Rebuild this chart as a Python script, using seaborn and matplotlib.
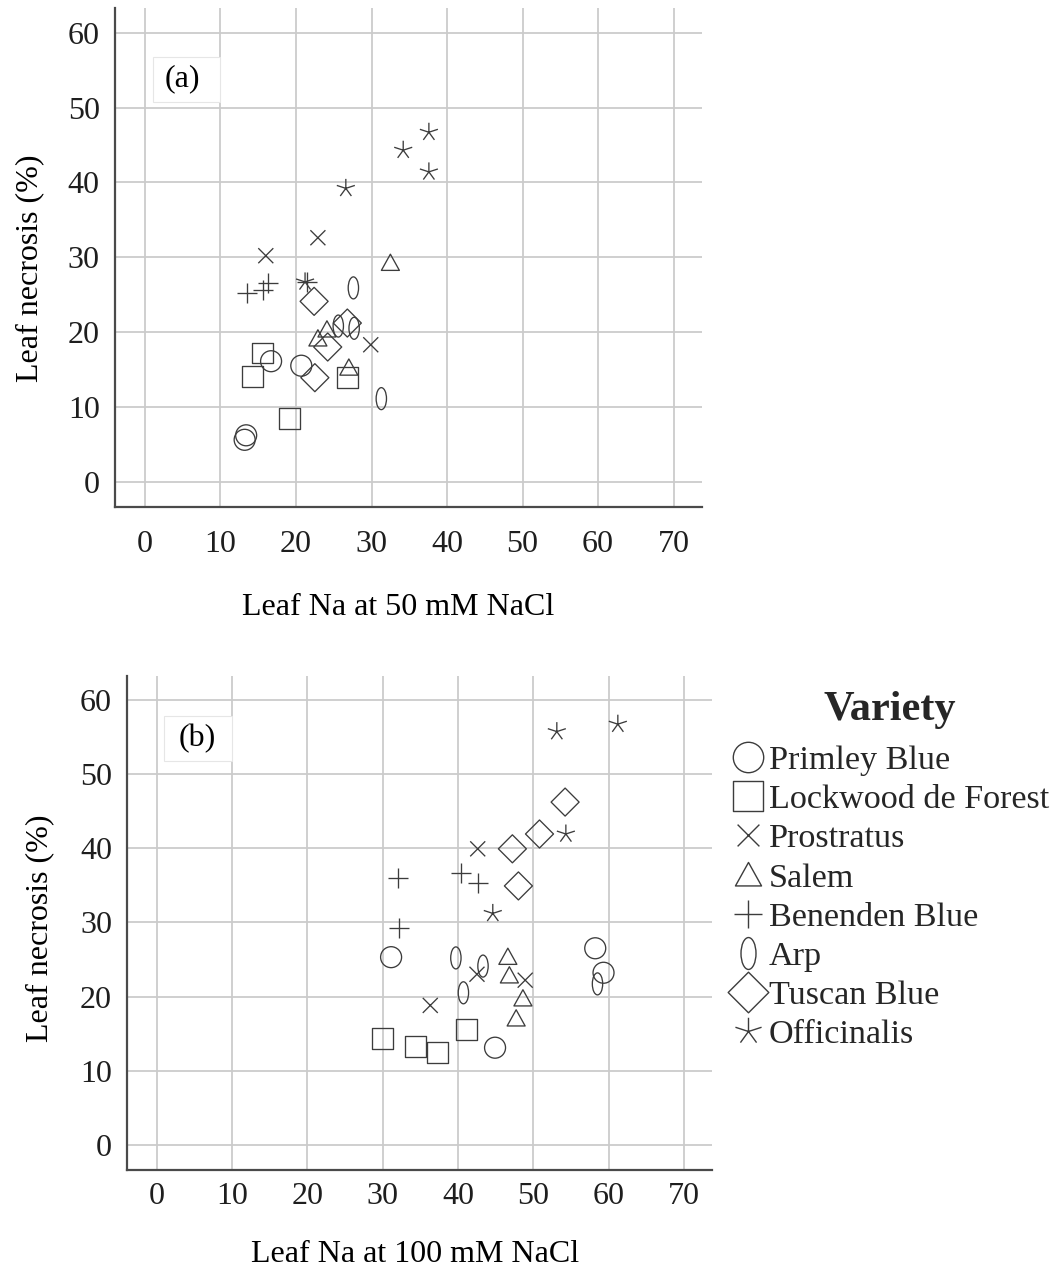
import numpy as np
import pandas as pd
import matplotlib
matplotlib.use("Agg")
import matplotlib.pyplot as plt
from matplotlib.path import Path
from matplotlib.transforms import Affine2D
from matplotlib.lines import Line2D
from matplotlib.patches import Rectangle
import seaborn as sns

# ---------------- data ----------------
varieties = ["Primley Blue", "Lockwood de Forest", "Prostratus", "Salem",
             "Benenden Blue", "Arp", "Tuscan Blue", "Officinalis"]

# panel (a): 50 mM NaCl
a_variety = ["Primley Blue", "Primley Blue", "Primley Blue", "Primley Blue",
             "Lockwood de Forest", "Lockwood de Forest", "Lockwood de Forest", "Lockwood de Forest",
             "Prostratus", "Prostratus", "Prostratus",
             "Salem", "Salem", "Salem", "Salem",
             "Benenden Blue", "Benenden Blue", "Benenden Blue", "Benenden Blue",
             "Arp", "Arp", "Arp", "Arp",
             "Tuscan Blue", "Tuscan Blue", "Tuscan Blue", "Tuscan Blue",
             "Officinalis", "Officinalis", "Officinalis", "Officinalis", "Officinalis"]
a_leaf_na = [16.7, 20.7, 13.4, 13.2,
             15.6, 14.2, 26.8, 19.1,
             16.0, 22.9, 29.9,
             32.5, 24.1, 22.9, 27.0,
             13.5, 15.6, 16.3, 21.5,
             27.6, 25.6, 27.7, 31.3,
             22.4, 26.8, 24.2, 22.5,
             37.6, 34.2, 37.6, 26.6, 21.2]
a_necrosis = [16.1, 15.5, 6.2, 5.6,
              17.2, 14.1, 13.9, 8.4,
              30.2, 32.6, 18.3,
              29.2, 20.3, 19.1, 15.2,
              25.2, 25.6, 26.5, 26.7,
              25.9, 20.8, 20.5, 11.1,
              24.1, 21.2, 18.0, 13.9,
              46.7, 44.3, 41.4, 39.2, 26.7]

# panel (b): 100 mM NaCl
b_variety = ["Primley Blue", "Primley Blue", "Primley Blue", "Primley Blue",
             "Lockwood de Forest", "Lockwood de Forest", "Lockwood de Forest", "Lockwood de Forest",
             "Prostratus", "Prostratus", "Prostratus", "Prostratus",
             "Salem", "Salem", "Salem", "Salem",
             "Benenden Blue", "Benenden Blue", "Benenden Blue", "Benenden Blue",
             "Arp", "Arp", "Arp", "Arp",
             "Tuscan Blue", "Tuscan Blue", "Tuscan Blue", "Tuscan Blue",
             "Officinalis", "Officinalis", "Officinalis", "Officinalis"]
b_leaf_na = [31.1, 58.2, 59.3, 44.9,
             29.9, 34.4, 37.2, 41.1,
             42.6, 36.3, 42.5, 48.9,
             46.6, 46.8, 48.6, 47.7,
             32.0, 40.4, 42.6, 32.2,
             39.7, 43.3, 40.7, 58.5,
             54.2, 50.8, 47.2, 48.0,
             53.1, 61.2, 54.3, 44.6]
b_necrosis = [25.3, 26.5, 23.2, 13.1,
              14.3, 13.2, 12.5, 15.6,
              39.9, 18.8, 23.0, 22.2,
              25.3, 22.8, 19.7, 17.0,
              36.0, 36.7, 35.3, 29.2,
              25.2, 24.1, 20.5, 21.7,
              46.2, 41.9, 39.9, 34.9,
              55.7, 56.7, 41.9, 31.2]

x_ticks = [0, 10, 20, 30, 40, 50, 60, 70]
y_ticks = [0, 10, 20, 30, 40, 50, 60]

# ---------------- marker shapes ----------------
def line_marker(segments):
    verts, codes = [], []
    for p0, p1 in segments:
        verts += [p0, p1]
        codes += [Path.MOVETO, Path.LINETO]
    return Path(verts, codes)

CL = Path.CLOSEPOLY
circle = Path.unit_circle()
square = Path([(-1, -1), (1, -1), (1, 1), (-1, 1), (-1, -1)], [1, 2, 2, 2, CL])
diamond = Path([(0, -1), (1, 0), (0, 1), (-1, 0), (0, -1)], [1, 2, 2, 2, CL])
triangle = Path([(0, 1), (-1, -0.8), (1, -0.8), (0, 1)], [1, 2, 2, CL])
ellipse = Path.unit_circle().transformed(Affine2D().scale(0.47, 1.0))
cross = line_marker([((-1, -1), (1, 1)), ((-1, 1), (1, -1))])
plus = line_marker([((-1, 0), (1, 0)), ((0, -1), (0, 1))])
star = line_marker([((0, 0), (np.cos(np.radians(90 + 72 * k)), np.sin(np.radians(90 + 72 * k))))
                    for k in range(5)])

marker_paths = {"Primley Blue": circle, "Lockwood de Forest": square, "Prostratus": cross,
                "Salem": triangle, "Benenden Blue": plus, "Arp": ellipse,
                "Tuscan Blue": diamond, "Officinalis": star}
marker_sizes = {"Primley Blue": 228, "Lockwood de Forest": 228, "Prostratus": 117,
                "Salem": 168, "Benenden Blue": 207, "Arp": 251,
                "Tuscan Blue": 407, "Officinalis": 186}

EDGE = "#3c3c3c"
GRID = "#cbcbcb"
SPINE = "#4a4a4a"
TXT = "#1e1e1e"

sns.set_style("white")
plt.rcParams["font.family"] = ["Liberation Serif", "DejaVu Serif"]

fig = plt.figure(figsize=(10.54, 12.67), dpi=100)
W, H = 1054, 1267

def axes_from_px(left, right, top, bottom):
    return fig.add_axes([left / W, 1 - bottom / H, (right - left) / W, (bottom - top) / H])

ax_a = axes_from_px(115, 702, 8.3, 506.7)
ax_b = axes_from_px(127.3, 712, 676.3, 1169.7)

panels = [
    (ax_a, a_variety, a_leaf_na, a_necrosis, (-3.97, 73.77), (-3.34, 63.26),
     "Leaf Na at 50 mM NaCl", "(a)", (4.9, 53.8), (1.0, 50.7, 8.9, 6.1), 17),
    (ax_b, b_variety, b_leaf_na, b_necrosis, (-3.92, 73.7), (-3.34, 63.15),
     "Leaf Na at 100 mM NaCl", "(b)", (5.4, 54.8), (1.0, 51.8, 9.0, 6.0), 9),
]

for ax, var, xs, ys, xlim, ylim, xlabel, tag, tagpos, box, xpad in panels:
    df = pd.DataFrame({"Variety": var, "Leaf Na": xs, "Leaf necrosis (%)": ys})
    sns.scatterplot(data=df, x="Leaf Na", y="Leaf necrosis (%)",
                    style="Variety", style_order=varieties, markers=marker_paths,
                    size="Variety", size_order=varieties, sizes=marker_sizes,
                    facecolor="none", edgecolor=EDGE, linewidth=0.95,
                    legend=False, ax=ax, zorder=3)
    ax.set_xlim(*xlim)
    ax.set_ylim(*ylim)
    ax.set_xticks(x_ticks)
    ax.set_yticks(y_ticks)
    ax.grid(True, color=GRID, linewidth=1.3)
    ax.set_axisbelow(True)
    for s in ["top", "right"]:
        ax.spines[s].set_visible(False)
    for s in ["left", "bottom"]:
        ax.spines[s].set_color(SPINE)
        ax.spines[s].set_linewidth(1.6)
    ax.tick_params(axis="both", length=0, labelsize=23, labelcolor=TXT)
    ax.tick_params(axis="y", pad=11)
    ax.tick_params(axis="x", pad=xpad)
    ax.set_xlabel(xlabel, fontsize=23, color="black")
    ax.set_ylabel("Leaf necrosis (%)", fontsize=23, color="black")
    ax.add_patch(Rectangle((box[0], box[1]), box[2], box[3], facecolor="white",
                           edgecolor="#e6e6e6", linewidth=0.8, zorder=2))
    ax.text(tagpos[0], tagpos[1], tag, ha="center", va="center", fontsize=23,
            color="black", zorder=4)

ax_a.xaxis.set_label_coords((398 - 115) / 587, (506.7 - 593) / 498.4)
ax_a.yaxis.set_label_coords((44 - 115) / 587, (506.7 - 268) / 498.4)
ax_b.xaxis.set_label_coords((415 - 127.3) / 584.7, (1169.7 - 1240.5) / 493.4)
ax_b.yaxis.set_label_coords((54 - 127.3) / 584.7, (1169.7 - 928) / 493.4)

# legend
handles = []
for v in varieties:
    handles.append(Line2D([], [], marker=marker_paths[v], linestyle="none",
                          markerfacecolor="none", markeredgecolor=EDGE,
                          markeredgewidth=1.0,
                          markersize=1.45 * np.sqrt(marker_sizes[v])))
leg = fig.legend(handles, varieties, loc="upper left",
                 bbox_to_anchor=(731 / W, 1 - 691 / H), frameon=False,
                 fontsize=24.6, handlelength=1.0, handletextpad=0.1,
                 labelspacing=0.243, borderpad=0, borderaxespad=0,
                 title="Variety",
                 title_fontproperties={"weight": "bold", "size": 30.5})
leg._legend_box.sep = 11.5

fig.savefig("out.png", dpi=100)
